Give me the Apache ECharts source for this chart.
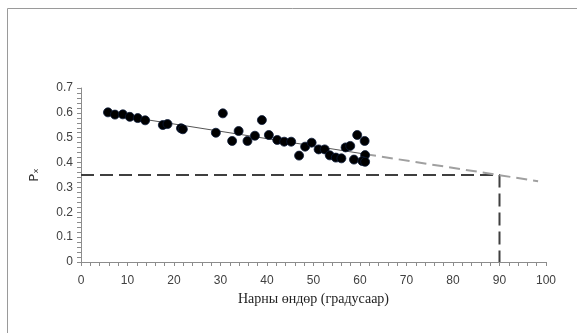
<!DOCTYPE html>
<html>
<head>
<meta charset="utf-8">
<script src="https://cdn.jsdelivr.net/npm/echarts@6/dist/echarts.min.js"></script>
<style>
html,body{margin:0;padding:0;background:#fff;}
#c{width:577px;height:333px;}
</style>
</head>
<body>
<div id="c"></div>
<script>
// Data
var xValues = [5.8, 7.3, 9.0, 10.5, 12.2, 13.8, 17.6, 18.6, 21.5, 21.9,
  29.0, 30.5, 32.5, 33.9, 35.8, 37.4, 38.9, 40.4, 42.2, 43.7,
  45.2, 46.9, 48.2, 49.6, 51.1, 52.4, 53.5, 54.8, 56.0, 56.9,
  57.9, 58.7, 59.4, 61.0, 61.1, 60.5, 61.1];
var yValues = [0.602, 0.593, 0.594, 0.584, 0.579, 0.570, 0.551, 0.555, 0.538, 0.534,
  0.520, 0.598, 0.487, 0.527, 0.487, 0.508, 0.571, 0.511, 0.491, 0.484,
  0.484, 0.428, 0.464, 0.480, 0.453, 0.453, 0.429, 0.420, 0.417, 0.461,
  0.467, 0.412, 0.511, 0.487, 0.430, 0.406, 0.403];
var trendX = [5.8, 61.1];
var trendY = [0.597, 0.434];
var extendX = [61.1, 98.3];
var extendY = [0.434, 0.325];
var refX = [0, 90, 90];
var refY = [0.35, 0.35, 0];
var xTitle = 'Нарны өндөр (градусаар)';
var yTitle = 'Pₓ';

function pairs(xs, ys){ return xs.map(function(x,i){ return [x, ys[i]]; }); }

var chart = echarts.init(document.getElementById('c'), null, {renderer:'canvas'});
var labelStyle = {color:'#404040', fontSize:12, fontFamily:'Liberation Sans, Arial, sans-serif'};
chart.setOption({
  animation:false,
  backgroundColor:'#fff',
  graphic:[
    {type:'line', shape:{x1:7.5,y1:8.5,x2:577,y2:8.5}, style:{stroke:'#9a9a9a', lineWidth:1}},
    {type:'line', shape:{x1:7.5,y1:8.5,x2:7.5,y2:333}, style:{stroke:'#9a9a9a', lineWidth:1}}
  ],
  grid:{left:81, right:31, top:88, bottom:71},
  xAxis:{
    type:'value', min:0, max:100, interval:10,
    name:xTitle, nameLocation:'middle', nameGap:30,
    nameTextStyle:{fontFamily:'Liberation Serif, Times New Roman, serif', fontSize:14, color:'#222'},
    axisLine:{lineStyle:{color:'#8c8c8c', width:1}},
    axisTick:{show:true, inside:false, length:4, lineStyle:{color:'#8c8c8c'}},
    minorTick:{show:true, splitNumber:5, length:4, lineStyle:{color:'#8c8c8c'}},
    axisLabel:Object.assign({margin:13}, labelStyle),
    splitLine:{show:false}
  },
  yAxis:{
    type:'value', min:0, max:0.7, interval:0.1,
    name:yTitle, nameLocation:'middle', nameGap:40, nameRotate:90,
    nameTextStyle:{fontFamily:'DejaVu Sans, sans-serif', fontSize:13, color:'#333'},
    axisLine:{show:true, lineStyle:{color:'#8c8c8c', width:1}},
    axisTick:{show:true, inside:false, length:4, lineStyle:{color:'#8c8c8c'}},
    minorTick:{show:true, splitNumber:5, length:4, lineStyle:{color:'#8c8c8c'}},
    axisLabel:Object.assign({margin:8, formatter:function(v){return String(+v.toFixed(1));}}, labelStyle),
    splitLine:{show:false}
  },
  series:[
    {type:'line', data:pairs(refX, refY), symbol:'none', silent:true,
     lineStyle:{color:'#3f3f3f', width:2, type:[13,6]}, z:1},
    {type:'line', data:pairs(extendX, extendY), symbol:'none', silent:true,
     lineStyle:{color:'#a0a0a0', width:2, type:[11,6]}, z:2},
    {type:'line', data:pairs(trendX, trendY), symbol:'none', silent:true,
     lineStyle:{color:'#555', width:1}, z:3},
    {type:'scatter', data:pairs(xValues, yValues), symbol:'circle', symbolSize:9,
     itemStyle:{color:'#000', borderColor:'#0b1a38', borderWidth:0.8, opacity:1}, z:4}
  ]
});
</script>
</body>
</html>
